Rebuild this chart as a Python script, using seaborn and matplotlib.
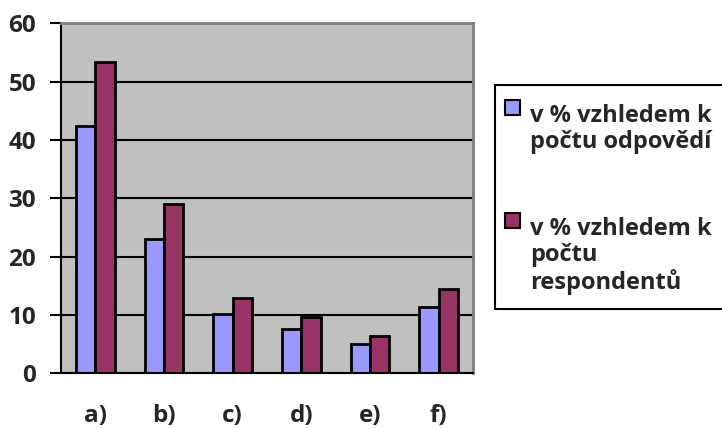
import matplotlib
matplotlib.use("Agg")
import matplotlib.pyplot as plt
import matplotlib.patches as mpatches
import seaborn as sns
import pandas as pd

categories = ["a)", "b)", "c)", "d)", "e)", "f)"]
series_names = ["v % vzhledem k\npočtu odpovědí", "v % vzhledem k\npočtu\nrespondentů"]
share_answers = [42.4, 23.0, 10.2, 7.6, 5.0, 11.4]
share_respondents = [53.3, 29.0, 12.9, 9.7, 6.4, 14.5]
y_ticks = [0, 10, 20, 30, 40, 50, 60]

colors = ["#9999FF", "#993366"]

df = pd.DataFrame({
    "kategorie": categories * 2,
    "hodnota": share_answers + share_respondents,
    "serie": [series_names[0]] * len(categories) + [series_names[1]] * len(categories),
})

sns.set_style("white")
plt.rcParams["font.family"] = ["Open Sans", "DejaVu Sans"]
plt.rcParams["font.weight"] = "bold"

fig = plt.figure(figsize=(7.22, 4.29), dpi=100)
ax = fig.add_axes([61 / 722, 1 - 373.3 / 429, (473 - 61) / 722, (373.3 - 23.3) / 429])

sns.barplot(data=df, x="kategorie", y="hodnota", hue="serie", palette=colors,
            width=0.56, gap=0, edgecolor="black", linewidth=2,
            saturation=1, ax=ax, legend=False)

ax.set_facecolor("#C0C0C0")
ax.set_ylim(0, 60)
ax.set_xlim(-0.5, len(categories) - 0.5)
ax.set_yticks(y_ticks)
ax.set_yticklabels([str(t) for t in y_ticks], fontsize=17.5, fontweight="bold")
ax.yaxis.grid(True, color="black", linewidth=1.5)
ax.set_axisbelow(True)

# category labels centred, tick marks on category boundaries
ax.set_xticks(range(len(categories)))
ax.set_xticklabels(categories, fontsize=17.5, fontweight="bold")
ax.tick_params(axis="x", which="major", length=0, pad=22)
ax.set_xticks([i - 0.5 for i in range(len(categories) + 1)], minor=True)
ax.tick_params(axis="x", which="minor", length=8, width=1.5, color="black", direction="out")
ax.tick_params(axis="y", which="major", length=8, width=1.5, color="black", direction="out", pad=10, left=True)

ax.set_xlabel("")
ax.set_ylabel("")
for side in ["left", "bottom"]:
    ax.spines[side].set_color("black")
    ax.spines[side].set_linewidth(1.5)
for side in ["top", "right"]:
    ax.spines[side].set_color("#808080")
    ax.spines[side].set_linewidth(2)

# legend box
fig.patches.append(mpatches.Rectangle((495 / 722, 1 - 309 / 429), 240 / 722, 224 / 429,
                                      transform=fig.transFigure, facecolor="white",
                                      edgecolor="black", linewidth=1.5))
legend_rows = [(series_names[0], 113), (series_names[1], 226)]
for (label, y_px), col in zip(legend_rows, colors):
    fig.patches.append(mpatches.Rectangle((505 / 722, 1 - (y_px + 2) / 429), 15 / 722, 15 / 429,
                                          transform=fig.transFigure, facecolor=col,
                                          edgecolor="black", linewidth=1.5))
    fig.text(530 / 722, 1 - (y_px - 9) / 429, label, fontsize=17, fontweight="bold",
             va="top", ha="left", linespacing=1.1)

fig.savefig("out.png", dpi=100, facecolor="white")
